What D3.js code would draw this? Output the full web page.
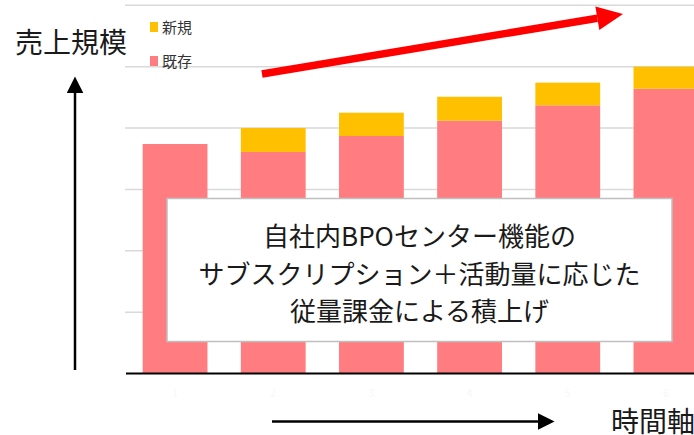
<!DOCTYPE html>
<html>
<head>
<meta charset="utf-8">
<script src="https://cdn.jsdelivr.net/npm/d3@7"></script>
<style>
  html, body { margin: 0; padding: 0; background: #fff; overflow: hidden; }
  svg { display: block; font-family: "Noto Sans CJK JP", "Noto Sans", sans-serif; }
</style>
</head>
<body>
<div id="chart"></div>
<script>
// Periods along the time axis
const periods = ["1", "2", "3", "4", "5", "6"];
// Existing revenue (既存) and new revenue (新規), in gridline units
const existing = [3.74, 3.61, 3.87, 4.12, 4.37, 4.64];
const newBiz = [0, 0.39, 0.38, 0.39, 0.37, 0.36];
const seriesNames = ["既存", "新規"];
const gridTicks = [1, 2, 3, 4, 5, 6];
const calloutLines = [
    "自社内BPOセンター機能の",
    "サブスクリプション＋活動量に応じた",
    "従量課金による積上げ"
];

const width = 694, height = 435;
const colors = { "既存": "#FF7C80", "新規": "#FFC000" };

const svg = d3.select("#chart")
    .append("svg")
    .attr("width", width)
    .attr("height", height);

// Scales (the plot runs past the right edge, like the original slide)
const x = d3.scaleBand()
    .domain(periods)
    .range([126, 715])
    .paddingInner(0.34)
    .paddingOuter(0.17);

const y = d3.scaleLinear()
    .domain([0, 6])
    .range([373.5, 5.3]);

// Gridlines
svg.append("g")
    .selectAll("line")
    .data(gridTicks)
    .join("line")
    .attr("x1", 125)
    .attr("x2", width)
    .attr("y1", d => y(d))
    .attr("y2", d => y(d))
    .attr("stroke", "#d9d9d9")
    .attr("stroke-width", 1.5);

// Stacked bars
const rows = periods.map((p, i) => ({ period: p, "既存": existing[i], "新規": newBiz[i] }));
const stacked = d3.stack().keys(seriesNames)(rows);

svg.append("g")
    .selectAll("g")
    .data(stacked)
    .join("g")
    .attr("fill", s => colors[s.key])
    .selectAll("rect")
    .data(s => s.filter(d => d[1] > d[0]))
    .join("rect")
    .attr("x", d => x(d.data.period))
    .attr("width", x.bandwidth())
    .attr("y", d => y(d[1]))
    .attr("height", d => y(d[0]) - y(d[1]));

// Baseline
svg.append("line")
    .attr("x1", 126).attr("x2", width)
    .attr("y1", y(0)).attr("y2", y(0))
    .attr("stroke", "#000")
    .attr("stroke-width", 2);

// Almost invisible category labels
svg.append("g")
    .selectAll("text")
    .data(periods)
    .join("text")
    .attr("x", d => x(d) + x.bandwidth() / 2)
    .attr("y", 397)
    .attr("text-anchor", "middle")
    .attr("font-size", 10)
    .attr("fill", "#f7f7f7")
    .text(d => d);

// Legend
const legend = svg.append("g");
[["新規", 22, 33], ["既存", 56, 67]].forEach(([name, sy, ty]) => {
    legend.append("rect")
        .attr("x", 150).attr("y", sy)
        .attr("width", 8).attr("height", 10)
        .attr("fill", colors[name]);
    legend.append("text")
        .attr("x", 162).attr("y", ty)
        .attr("font-size", 15)
        .attr("fill", "#333")
        .text(name);
});

// Arrow markers
const defs = svg.append("defs");
defs.append("marker")
    .attr("id", "blackHead")
    .attr("viewBox", "0 0 10 10")
    .attr("refX", 2).attr("refY", 5)
    .attr("markerUnits", "userSpaceOnUse")
    .attr("markerWidth", 17).attr("markerHeight", 17)
    .attr("orient", "auto")
    .append("path")
    .attr("d", "M0,0 L10,5 L0,10 Z")
    .attr("fill", "#000");

// Axis arrows
svg.append("line")
    .attr("x1", 75).attr("y1", 370)
    .attr("x2", 75).attr("y2", 90)
    .attr("stroke", "#000")
    .attr("stroke-width", 2.5)
    .attr("marker-end", "url(#blackHead)");

svg.append("line")
    .attr("x1", 272).attr("y1", 421.5)
    .attr("x2", 541).attr("y2", 421.5)
    .attr("stroke", "#000")
    .attr("stroke-width", 2.5)
    .attr("marker-end", "url(#blackHead)");

svg.append("text")
    .attr("x", 15).attr("y", 53)
    .attr("font-size", 28)
    .attr("fill", "#1a1a1a")
    .text("売上規模");

svg.append("text")
    .attr("x", 611).attr("y", 432)
    .attr("font-size", 28)
    .attr("fill", "#1a1a1a")
    .text("時間軸");

// Red growth arrow
const ax0 = 262, ay0 = 74, ax1 = 623, ay1 = 14;
const ang = Math.atan2(ay1 - ay0, ax1 - ax0);
const headLen = 26, headW = 12;
const bx = ax1 - headLen * Math.cos(ang), by = ay1 - headLen * Math.sin(ang);
svg.append("line")
    .attr("x1", ax0).attr("y1", ay0)
    .attr("x2", bx).attr("y2", by)
    .attr("stroke", "#FF0000")
    .attr("stroke-width", 7.5);
svg.append("path")
    .attr("d", d3.line()([
        [ax1, ay1],
        [bx - headW * Math.sin(ang), by + headW * Math.cos(ang)],
        [bx + headW * Math.sin(ang), by - headW * Math.cos(ang)]
    ]) + "Z")
    .attr("fill", "#FF0000");

// Callout box
svg.append("rect")
    .attr("x", 167).attr("y", 198.5)
    .attr("width", 505).attr("height", 143)
    .attr("fill", "#fff")
    .attr("stroke", "#bfbfbf")
    .attr("stroke-width", 1.5);

svg.append("g")
    .selectAll("text")
    .data(calloutLines)
    .join("text")
    .attr("x", 419.5)
    .attr("y", (d, i) => 246 + i * 37.5)
    .attr("text-anchor", "middle")
    .attr("font-size", 26)
    .attr("fill", "#1a1a1a")
    .text(d => d);
</script>
</body>
</html>
